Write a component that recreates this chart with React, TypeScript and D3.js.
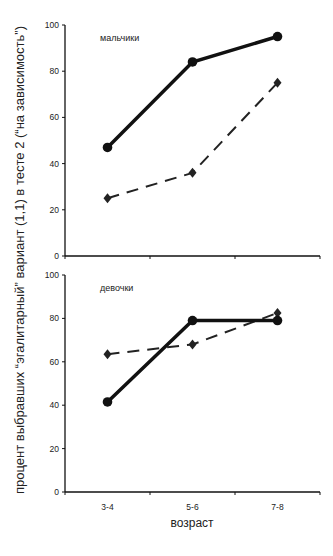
import React from "react";
import * as d3 from "d3";

const categories = ["3-4", "5-6", "7-8"];
const yTicks = [0, 20, 40, 60, 80, 100];
const boysSolid = [47, 84, 95];
const boysDashed = [25, 36, 75];
const girlsSolid = [41.5, 79, 79];
const girlsDashed = [63.5, 68, 82.5];
const panelLabels = ["мальчики", "девочки"];
const yTitle = "процент выбравших \u201Cэгалитарный\u201D вариант (1,1) в тесте 2 (\u201Cна зависимость\u201D)";
const xTitle = "возраст";

const W = 333, H = 556;
const left = 65, right = 320;
const font = "Liberation Sans, Arial, sans-serif";

function Panel({ top, bottom, solid, dashed, label, showLabels }: any) {
  const x = d3.scaleBand<string>().domain(categories).range([left, right]);
  const y = d3.scaleLinear().domain([0, 100]).range([bottom, top]);
  const cx = (c: string) => (x(c) as number) + x.bandwidth() / 2;
  const line = d3.line<number>().x((_, i) => cx(categories[i])).y((d) => y(d));
  const bounds = [...categories.map((c) => x(c) as number), right];
  return (
    <g>
      <line x1={left} x2={left} y1={y(100)} y2={y(0)} stroke="#111" strokeWidth={1.3} />
      <line x1={left} x2={right} y1={y(0)} y2={y(0)} stroke="#111" strokeWidth={1.3} />
      {yTicks.map((t) => (
        <g key={t}>
          <line x1={left - 3} x2={left} y1={y(t)} y2={y(t)} stroke="#111" strokeWidth={1} />
          <text x={left - 6} y={y(t)} dy="0.35em" textAnchor="end" fontSize={8.5} fontFamily={font} fill="#222">{t}</text>
        </g>
      ))}
      {bounds.map((b, i) => (
        <line key={i} x1={b} x2={b} y1={y(0)} y2={y(0) + 3} stroke="#111" strokeWidth={1} />
      ))}
      {showLabels && categories.map((c) => (
        <text key={c} x={cx(c)} y={y(0) + 18} textAnchor="middle" fontSize={8.5} fontFamily={font} fill="#222">{c}</text>
      ))}
      <path d={line(dashed) as string} fill="none" stroke="#222" strokeWidth={2} strokeDasharray="12,8" />
      {dashed.map((d: number, i: number) => {
        const px = cx(categories[i]), py = y(d);
        return <path key={i} d={`M${px},${py - 5}L${px + 4},${py}L${px},${py + 5}L${px - 4},${py}Z`} fill="#222" />;
      })}
      <path d={line(solid) as string} fill="none" stroke="#111" strokeWidth={3.5} />
      {solid.map((d: number, i: number) => (
        <circle key={i} cx={cx(categories[i])} cy={y(d)} r={4.8} fill="#111" />
      ))}
      <text x={100} y={top + 16} fontSize={9} fontFamily={font} fill="#222">{label}</text>
    </g>
  );
}

export default function App() {
  return (
    <svg width={W} height={H} style={{ position: "absolute", left: 0, top: 0, background: "#fff" }}>
      <Panel top={25} bottom={256} solid={boysSolid} dashed={boysDashed} label={panelLabels[0]} showLabels={false} />
      <Panel top={275} bottom={492} solid={girlsSolid} dashed={girlsDashed} label={panelLabels[1]} showLabels={true} />
      <text x={192} y={527} textAnchor="middle" fontSize={12} fontFamily={font} fill="#222">{xTitle}</text>
      <text transform="translate(24,260) rotate(-90)" textAnchor="middle" fontSize={13} fontFamily={font} fill="#222" textLength={468} lengthAdjust="spacingAndGlyphs">{yTitle}</text>
    </svg>
  );
}
